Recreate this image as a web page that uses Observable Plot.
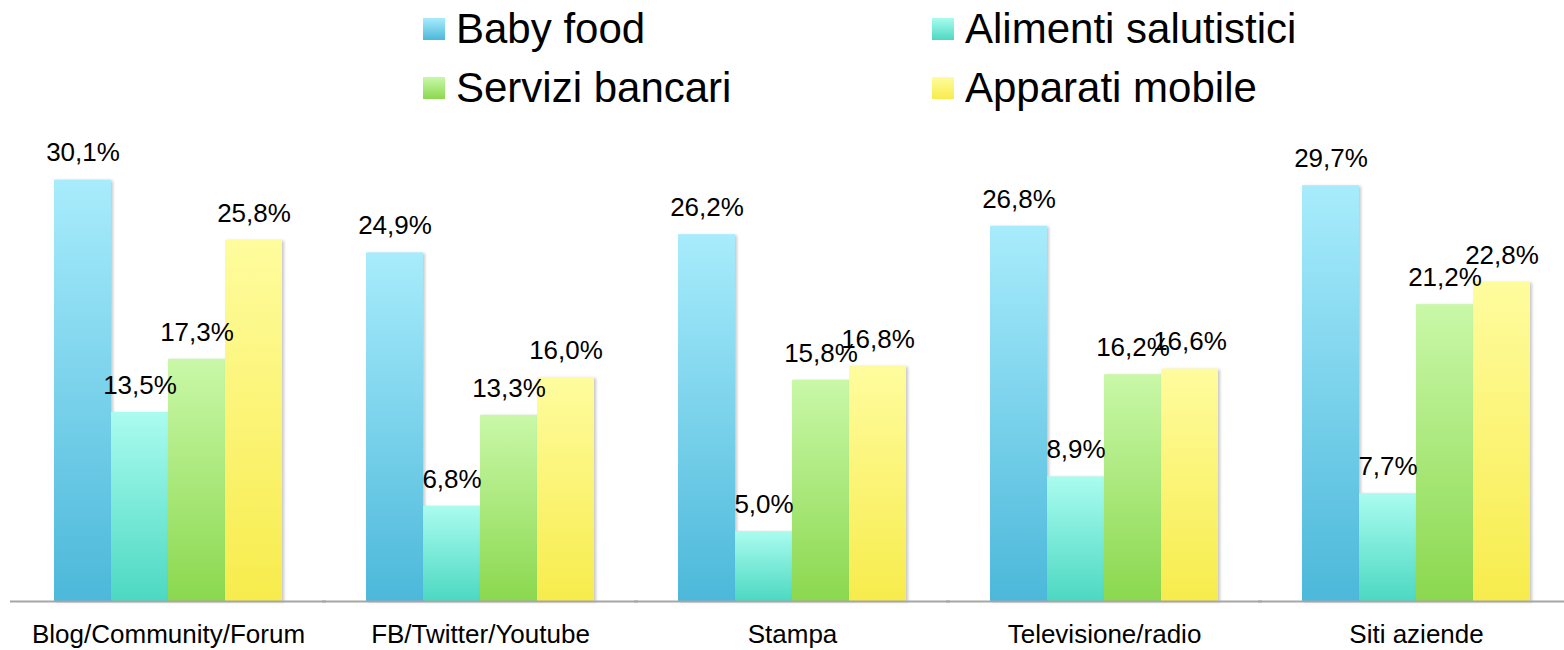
<!DOCTYPE html>
<html>
<head>
<meta charset="utf-8">
<script src="https://cdn.jsdelivr.net/npm/d3@7"></script>
<script src="https://cdn.jsdelivr.net/npm/@observablehq/plot@0.6"></script>
<style>
  html, body { margin: 0; padding: 0; background: #fff; width: 1564px; height: 650px; overflow: hidden; }
  body { font-family: "Liberation Sans", Arial, sans-serif; position: relative; }
  #legend { position: absolute; left: 0; top: 0; width: 1564px; height: 118px; }
  .item { position: absolute; display: flex; align-items: center; font-size: 42px; color: #000; line-height: 1; }
  .sw { width: 22px; height: 22px; margin-right: 11px; }
  #chart { position: absolute; left: 0; top: 118px; }
</style>
</head>
<body>
<div id="legend"></div>
<div id="chart"></div>
<script>
const categories = ["Blog/Community/Forum", "FB/Twitter/Youtube", "Stampa", "Televisione/radio", "Siti aziende"];
const series = ["Baby food", "Alimenti salutistici", "Servizi bancari", "Apparati mobile"];
const babyFood = [30.1, 24.9, 26.2, 26.8, 29.7];
const alimentiSalutistici = [13.5, 6.8, 5.0, 8.9, 7.7];
const serviziBancari = [17.3, 13.3, 15.8, 16.2, 21.2];
const apparatiMobile = [25.8, 16.0, 16.8, 16.6, 22.8];

const seriesValues = [babyFood, alimentiSalutistici, serviziBancari, apparatiMobile];
const gradTop = ["#a8ecfc", "#aafcef", "#c9f8a8", "#fffc9e"];
const gradBottom = ["#4cb8da", "#4cd8c2", "#8bd84f", "#f7ec4c"];

const rows = [];
categories.forEach((c, i) => {
  series.forEach((s, j) => rows.push({category: c, series: s, value: seriesValues[j][i]}));
});

const fmt = v => d3.format(".1f")(v).replace(".", ",") + "%";

// legend
const legend = document.getElementById("legend");
const legendPos = [[423, 8], [932, 8], [423, 67], [932, 67]];
[0, 1, 2, 3].forEach(j => {
  const el = document.createElement("div");
  el.className = "item";
  el.style.left = legendPos[j][0] + "px";
  el.style.top = legendPos[j][1] + "px";
  const sw = document.createElement("div");
  sw.className = "sw";
  sw.style.background = `linear-gradient(to bottom, ${gradTop[j]}, ${gradBottom[j]})`;
  const t = document.createElement("span");
  t.textContent = series[j];
  el.appendChild(sw);
  el.appendChild(t);
  legend.appendChild(el);
});

const chart = Plot.plot({
  width: 1564,
  height: 532,
  marginLeft: 20,
  marginRight: 0,
  marginTop: 0,
  marginBottom: 49,
  style: {fontFamily: "Liberation Sans, Arial, sans-serif", fontSize: "26px", color: "#000", background: "transparent", overflow: "visible"},
  fx: {domain: categories, paddingInner: 0.27, paddingOuter: 0.1055, axis: "bottom", tickSize: 0, tickPadding: 23, label: null},
  x: {domain: series, padding: 0, axis: null},
  y: {domain: [0, 34.5], axis: null},
  color: {type: "ordinal", domain: series, range: series.map((s, j) => `url(#grad${j})`)},
  marks: [
    Plot.barY(rows, {fx: "category", x: "series", y: "value", fill: "series", inset: 0}),
    Plot.ruleY([0], {stroke: "#a6a6a6", strokeWidth: 2, insetLeft: -44, insetRight: -44}),
    Plot.text(rows, {fx: "category", x: "series", y: "value", text: d => fmt(d.value), dy: -27, fontSize: 26, fill: "#000", lineAnchor: "middle"})
  ]
});

const defs = d3.select(chart).insert("defs", ":first-child");
series.forEach((s, j) => {
  const g = defs.append("linearGradient").attr("id", `grad${j}`).attr("x1", 0).attr("y1", 0).attr("x2", 0).attr("y2", 1);
  g.append("stop").attr("offset", "0%").attr("stop-color", gradTop[j]);
  g.append("stop").attr("offset", "100%").attr("stop-color", gradBottom[j]);
});
d3.select(chart).selectAll("rect").style("filter", "drop-shadow(2px 1px 1.5px rgba(0,0,0,0.22))");

document.getElementById("chart").appendChild(chart);
</script>
</body>
</html>
